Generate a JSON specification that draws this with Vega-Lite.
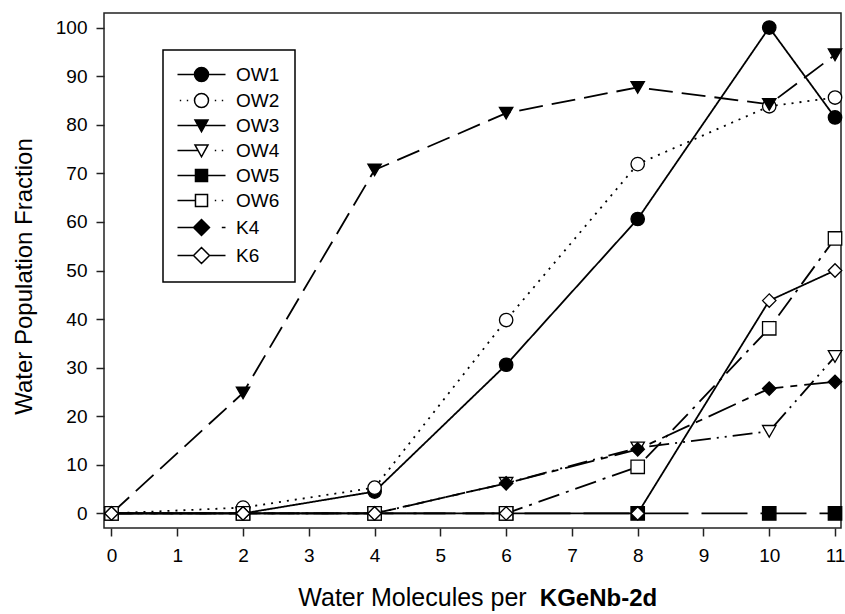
{
  "$schema": "https://vega.github.io/schema/vega-lite/v6.json",
  "width": 737,
  "height": 515,
  "autosize": {"type": "none"},
  "padding": {"left": 104, "top": 13, "right": 4, "bottom": 86},
  "background": "white",
  "config": {
    "font": "Liberation Sans",
    "view": {"stroke": "#222", "strokeWidth": 1.5},
    "axis": {"labelColor": "black", "titleColor": "black", "tickColor": "#222", "tickWidth": 1.5, "labelFont": "Liberation Sans", "titleFont": "Liberation Sans"}
  },
  "data": {
    "values": [
      {"series": "OW1", "x": 0, "y": 0}, {"series": "OW1", "x": 2, "y": 0}, {"series": "OW1", "x": 4, "y": 4.5}, {"series": "OW1", "x": 6, "y": 30.6}, {"series": "OW1", "x": 8, "y": 60.6}, {"series": "OW1", "x": 10, "y": 100}, {"series": "OW1", "x": 11, "y": 81.5},
      {"series": "OW2", "x": 0, "y": 0}, {"series": "OW2", "x": 2, "y": 1.2}, {"series": "OW2", "x": 4, "y": 5.3}, {"series": "OW2", "x": 6, "y": 39.8}, {"series": "OW2", "x": 8, "y": 71.9}, {"series": "OW2", "x": 10, "y": 83.8}, {"series": "OW2", "x": 11, "y": 85.6},
      {"series": "OW3", "x": 0, "y": 0}, {"series": "OW3", "x": 2, "y": 24.8}, {"series": "OW3", "x": 4, "y": 70.7}, {"series": "OW3", "x": 6, "y": 82.4}, {"series": "OW3", "x": 8, "y": 87.7}, {"series": "OW3", "x": 10, "y": 84.2}, {"series": "OW3", "x": 11, "y": 94.4},
      {"series": "OW4", "x": 0, "y": 0}, {"series": "OW4", "x": 2, "y": 0}, {"series": "OW4", "x": 4, "y": 0}, {"series": "OW4", "x": 6, "y": 6.2}, {"series": "OW4", "x": 8, "y": 13.5}, {"series": "OW4", "x": 10, "y": 16.9}, {"series": "OW4", "x": 11, "y": 32.3},
      {"series": "OW5", "x": 0, "y": 0}, {"series": "OW5", "x": 2, "y": 0}, {"series": "OW5", "x": 4, "y": 0}, {"series": "OW5", "x": 6, "y": 0}, {"series": "OW5", "x": 8, "y": 0}, {"series": "OW5", "x": 10, "y": 0}, {"series": "OW5", "x": 11, "y": 0},
      {"series": "OW6", "x": 0, "y": 0}, {"series": "OW6", "x": 2, "y": 0}, {"series": "OW6", "x": 4, "y": 0}, {"series": "OW6", "x": 6, "y": 0}, {"series": "OW6", "x": 8, "y": 9.6}, {"series": "OW6", "x": 10, "y": 38.1}, {"series": "OW6", "x": 11, "y": 56.6},
      {"series": "K4", "x": 0, "y": 0}, {"series": "K4", "x": 2, "y": 0}, {"series": "K4", "x": 4, "y": 0}, {"series": "K4", "x": 6, "y": 6.2}, {"series": "K4", "x": 8, "y": 13.2}, {"series": "K4", "x": 10, "y": 25.7}, {"series": "K4", "x": 11, "y": 27.1},
      {"series": "K6", "x": 0, "y": 0}, {"series": "K6", "x": 2, "y": 0}, {"series": "K6", "x": 4, "y": 0}, {"series": "K6", "x": 6, "y": 0}, {"series": "K6", "x": 8, "y": 0}, {"series": "K6", "x": 10, "y": 43.8}, {"series": "K6", "x": 11, "y": 50.0}
    ]
  },
  "resolve": {"axis": {"x": "independent"}},
  "layer": [
    {
      "mark": {"type": "line", "color": "black", "strokeWidth": 1.8, "strokeCap": "butt"},
      "encoding": {
        "x": {"field": "x", "type": "quantitative", "scale": {"domain": [-0.114, 11.091], "nice": false, "zero": false},
          "axis": {"values": [0,1,2,3,4,5,6,7,8,9,10,11], "title": "Water Molecules per", "titleFontSize": 25, "titleFontWeight": "normal", "titleX": 308, "titleY": 77, "titleAlign": "center", "titleBaseline": "alphabetic", "labelFontSize": 19, "tickSize": 8, "labelPadding": 10, "domain": false, "grid": false, "labelFlush": false, "labelOverlap": false}},
        "y": {"field": "y", "type": "quantitative", "scale": {"domain": [-3, 103], "nice": false, "zero": false},
          "axis": {"values": [0,10,20,30,40,50,60,70,80,90,100], "title": "Water Population Fraction", "titleFontSize": 24, "titleFontWeight": "normal", "titleAngle": 270, "titleX": -73, "titleY": 263, "titleAlign": "center", "titleBaseline": "alphabetic", "labelFontSize": 19, "tickSize": 8, "labelPadding": 9, "domain": false, "grid": false, "labelFlush": false, "labelOverlap": false}},
        "detail": {"field": "series", "type": "nominal"},
        "strokeDash": {"field": "series", "type": "nominal",
          "scale": {"domain": ["K4","K6","OW1","OW2","OW3","OW4","OW5","OW6"], "range": [[30,7,7,7],[1,0],[1,0],[2,6],[24,9],[20,6,2,6,2,6],[46,13],[22,7,3,7]]},
          "legend": null}
      }
    },
    {
      "mark": {"type": "point", "filled": true, "stroke": "black", "strokeWidth": 1.3, "opacity": 1, "size": 180},
      "encoding": {
        "x": {"field": "x", "type": "quantitative", "scale": {"domain": [-0.114, 11.091], "nice": false, "zero": false},
          "axis": {"orient": "top", "labels": false, "ticks": false, "domain": false, "grid": false, "title": "KGeNb-2d", "titleFontSize": 24, "titleFontWeight": "bold", "titleX": 494, "titleY": 592, "titleAlign": "center", "titleBaseline": "alphabetic"}},
        "y": {"field": "y", "type": "quantitative", "scale": {"domain": [-3, 103], "nice": false, "zero": false},
          "axis": {"values": [0,10,20,30,40,50,60,70,80,90,100], "title": "Water Population Fraction", "titleFontSize": 24, "titleFontWeight": "normal", "titleAngle": 270, "titleX": -73, "titleY": 263, "titleAlign": "center", "titleBaseline": "alphabetic", "labelFontSize": 19, "tickSize": 8, "labelPadding": 9, "domain": false, "grid": false, "labelFlush": false, "labelOverlap": false}},
        "shape": {"field": "series", "type": "nominal",
          "scale": {"domain": ["K6","K4","OW6","OW5","OW4","OW3","OW2","OW1"], "range": ["diamond","diamond","square","square","triangle-down","triangle-down","circle","circle"]},
          "legend": null},
        "fill": {"field": "series", "type": "nominal",
          "scale": {"domain": ["OW1","OW2","OW3","OW4","OW5","OW6","K4","K6"], "range": ["black","white","black","white","black","white","black","white"]},
          "legend": {"title": null, "orient": "none", "legendX": 59, "legendY": 37, "padding": 15, "strokeColor": "black", "labelFontSize": 19, "labelFont": "Liberation Sans", "labelColor": "black", "symbolSize": 196, "symbolOffset": 14, "labelOffset": 25, "rowPadding": 5, "symbolStrokeWidth": 1.5, "symbolStrokeColor": "black",
            "encoding": {
              "legend": {"strokeWidth": {"value": 1.5}},
              "symbols": {"opacity": {"value": 1}, "stroke": {"value": "black"}, "strokeWidth": {"value": 1.5},
                "shape": {"value": {"expr": "datum.value==='OW1'?'M-3.43,0H-1M1,0H3.43M-1,0C-1,-0.552 -0.552,-1 0,-1C0.552,-1 1,-0.552 1,0C1,0.552 0.552,1 0,1C-0.552,1 -1,0.552 -1,0Z':datum.value==='OW2'?'M-3.1,0h0.2M-2.1,0h0.2M1.9,0h0.2M2.9,0h0.2M-1,0C-1,-0.552 -0.552,-1 0,-1C0.552,-1 1,-0.552 1,0C1,0.552 0.552,1 0,1C-0.552,1 -1,0.552 -1,0Z':datum.value==='OW3'?'M-3.43,0H3.43M-0.93,-0.8L0.93,-0.8L0,0.9Z':datum.value==='OW4'?'M-3.43,0H-0.49M1.9,0h0.2M2.9,0h0.2M-0.93,-0.8L0.93,-0.8L0,0.9Z':datum.value==='OW5'?'M-3.43,0H3.43M-0.86,-0.86H0.86V0.86H-0.86Z':datum.value==='OW6'?'M-3.43,0H-0.86M1.9,0h0.2M2.9,0h0.2M-0.86,-0.86H0.86V0.86H-0.86Z':datum.value==='K4'?'M-3.43,0H0M2.9,0H3.43M-1.14,0L0,-1.14L1.14,0L0,1.14Z':'M-3.43,0H-1.14M1.14,0H3.43M-1.14,0L0,-1.14L1.14,0L0,1.14Z'"}}}
            }}}
      }
    }
  ]
}
